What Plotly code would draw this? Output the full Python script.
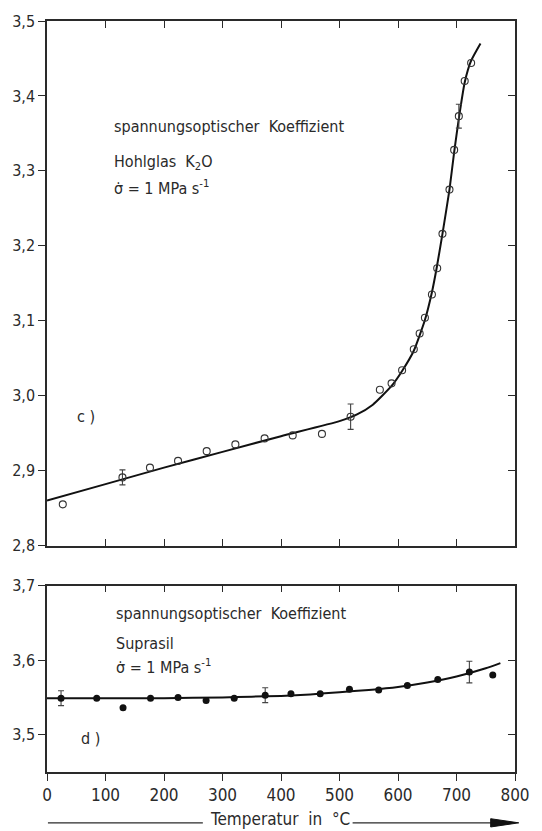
import plotly.graph_objects as go

# ---- panel c) Hohlglas K2O ----
c_x = [27, 129, 176, 224, 273, 322, 372, 420, 470, 519, 569, 589, 607, 627, 637, 646,
       658, 667, 676, 688, 696, 704, 714, 725]
c_y = [2.855, 2.891, 2.904, 2.913, 2.926, 2.935, 2.943, 2.947, 2.949, 2.972, 3.008, 3.0165,
       3.034, 3.062, 3.083, 3.104, 3.135, 3.170, 3.216, 3.275, 3.328, 3.373, 3.420, 3.444]
c_err = [0, 0.010, 0, 0, 0, 0, 0, 0, 0, 0.017, 0, 0, 0, 0, 0, 0,
         0, 0, 0, 0, 0, 0.016, 0, 0]
c_fit_x = [0, 100, 200, 300, 400, 500, 530, 557, 589, 607, 627, 646, 658, 666, 676, 688,
           696, 704, 714, 725, 741]
c_fit_y = [2.860, 2.882, 2.904, 2.925, 2.946, 2.966, 2.975, 2.988, 3.013, 3.033, 3.060, 3.101,
           3.138, 3.170, 3.216, 3.275, 3.325, 3.370, 3.418, 3.447, 3.470]

# ---- panel d) Suprasil ----
d_x = [24, 85, 130, 177, 224, 272, 320, 373, 417, 467, 517, 567, 616, 668, 722, 762]
d_y = [3.549, 3.549, 3.536, 3.549, 3.550, 3.546, 3.549, 3.553, 3.555, 3.555, 3.561, 3.560,
       3.566, 3.574, 3.584, 3.580]
d_err = [0.010, 0, 0, 0, 0, 0, 0, 0.010, 0, 0, 0, 0, 0, 0, 0.0145, 0]
d_fit_x = [0, 100, 200, 300, 350, 400, 450, 500, 550, 600, 650, 700, 750, 775]
d_fit_y = [3.549, 3.549, 3.549, 3.550, 3.551, 3.552, 3.554, 3.557, 3.560, 3.564, 3.570,
           3.578, 3.589, 3.596]

x_ticks = [0, 100, 200, 300, 400, 500, 600, 700, 800]
yc_ticks = [2.8, 2.9, 3.0, 3.1, 3.2, 3.3, 3.4, 3.5]
yd_ticks = [3.5, 3.6, 3.7]

FONT = "DejaVu Sans Condensed, Liberation Sans Narrow, Roboto, sans-serif"
INK = "#2a2a2a"

fig = go.Figure()


def add_panel(xs, ys, errs, fx, fy, xa, ya, symbol):
    fig.add_trace(go.Scatter(x=fx, y=fy, mode="lines", line=dict(color="#111", width=2, shape="spline",
                                                                smoothing=0.5),
                             xaxis=xa, yaxis=ya, hoverinfo="skip", showlegend=False))
    ex = [x for x, e in zip(xs, errs) if e > 0]
    ey = [y for y, e in zip(ys, errs) if e > 0]
    ee = [e for e in errs if e > 0]
    fig.add_trace(go.Scatter(x=ex, y=ey, mode="markers", marker=dict(size=1, opacity=0),
                             error_y=dict(type="data", array=ee, visible=True,
                                          color="#444", thickness=1.1, width=3),
                             xaxis=xa, yaxis=ya, hoverinfo="skip", showlegend=False))
    if symbol == "open":
        mk = dict(symbol="circle-open", size=7, color="#333", line=dict(width=1.1))
    else:
        mk = dict(symbol="circle", size=7, color="#111")
    fig.add_trace(go.Scatter(x=xs, y=ys, mode="markers", marker=mk,
                             xaxis=xa, yaxis=ya, showlegend=False))


add_panel(c_x, c_y, c_err, c_fit_x, c_fit_y, "x", "y", "open")
add_panel(d_x, d_y, d_err, d_fit_x, d_fit_y, "x2", "y2", "filled")

# empty traces for mirrored (inside) tick axes
for xa, ya in [("x3", "y3"), ("x4", "y4")]:
    fig.add_trace(go.Scatter(x=[], y=[], xaxis=xa, yaxis=ya, showlegend=False, hoverinfo="skip"))

TOP = [0.3015, 1.0]
BOT = [0.0, 0.2483]
common_line = dict(showline=True, linecolor=INK, linewidth=1.5, showgrid=False, zeroline=False,
                   ticklen=7, tickwidth=1.3, tickcolor=INK)

fig.update_layout(
    width=542, height=831,
    margin=dict(l=44, r=20, t=19, b=59),
    paper_bgcolor="white", plot_bgcolor="white",
    separators=",.",
    font=dict(family=FONT, color=INK, size=16),
    xaxis=dict(domain=[0, 1], anchor="y", range=[0, 800], tickvals=x_ticks, ticks="inside",
               showticklabels=False, **common_line),
    yaxis=dict(domain=TOP, anchor="x", range=[2.8, 3.5], tickvals=yc_ticks, tickformat=".1f",
               ticks="outside", tickfont=dict(size=16), **common_line),
    xaxis2=dict(domain=[0, 1], anchor="y2", range=[0, 800], tickvals=x_ticks, ticks="outside",
                tickfont=dict(size=17), **common_line),
    yaxis2=dict(domain=BOT, anchor="x2", range=[3.45, 3.7], tickvals=yd_ticks, tickformat=".1f",
                ticks="outside", tickfont=dict(size=16), **common_line),
    xaxis3=dict(overlaying="x", anchor="y", side="top", range=[0, 800], tickvals=x_ticks,
                ticks="inside", showticklabels=False, **common_line),
    yaxis3=dict(overlaying="y", anchor="x", side="right", range=[2.8, 3.5], tickvals=yc_ticks,
                ticks="inside", showticklabels=False, **common_line),
    xaxis4=dict(overlaying="x2", anchor="y2", side="top", range=[0, 800], tickvals=x_ticks,
                ticks="inside", showticklabels=False, **common_line),
    yaxis4=dict(overlaying="y2", anchor="x2", side="right", range=[3.45, 3.7], tickvals=yd_ticks,
                ticks="inside", showticklabels=False, **common_line),
)


def note(text, x, y, size=16, xanchor="left"):
    fig.add_annotation(text=text, x=x, y=y, xref="paper", yref="paper", showarrow=False,
                       xanchor=xanchor, yanchor="middle", font=dict(family=FONT, size=size, color=INK))


note("spannungsoptischer  Koeffizient", 0.138, 0.859)
note("Hohlglas  K<sub>2</sub>O", 0.138, 0.811)
note("σ̇ = 1 MPa s<sup>-1</sup>", 0.138, 0.778)
note("c )", 0.060, 0.473)
note("spannungsoptischer  Koeffizient", 0.144, 0.211)
note("Suprasil", 0.144, 0.171)
note("σ̇ = 1 MPa s<sup>-1</sup>", 0.144, 0.140)
note("d )", 0.068, 0.045)
note("Temperatur  in  °C", 0.498, -0.063, size=17, xanchor="center")

# axis-title arrow decoration
fig.add_shape(type="line", xref="paper", yref="paper", x0=0.002, x1=0.333, y0=-0.0677, y1=-0.0677,
              line=dict(color=INK, width=1.3))
fig.add_shape(type="line", xref="paper", yref="paper", x0=0.653, x1=0.96, y0=-0.0677, y1=-0.0677,
              line=dict(color=INK, width=1.3))
fig.add_shape(type="path", xref="paper", yref="paper",
              path="M 0.948 -0.0622 L 1.008 -0.0677 L 0.948 -0.0732 Z",
              fillcolor="#111", line=dict(color="#111", width=1))

fig.write_html("out.html")
